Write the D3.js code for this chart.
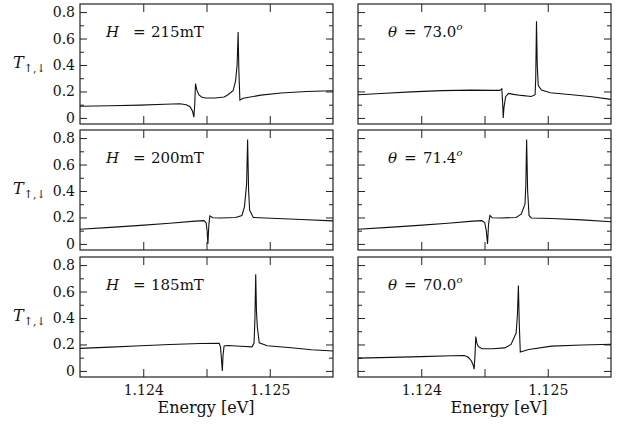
<!DOCTYPE html>
<html>
<head>
<meta charset="utf-8">
<script src="https://cdn.jsdelivr.net/npm/d3@7"></script>
<style>
  body { margin: 0; background: #fff; }
</style>
</head>
<body>
<svg id="chart" width="621" height="428" font-family="'DejaVu Serif', 'Liberation Serif', 'Times New Roman', serif"></svg>
<script>
// values: energy [eV] and T for each panel
var eH215 = [1.12350, 1.12374, 1.12398, 1.12417, 1.12429, 1.12434, 1.12437, 1.12439, 1.124400, 1.124407, 1.124413, 1.124424, 1.124439, 1.12446, 1.12449, 1.12457, 1.12464, 1.12467, 1.12471, 1.12473, 1.124742, 1.124750, 1.124756, 1.124764, 1.12479, 1.12493, 1.12509, 1.12529, 1.12550];
var tH215 = [0.088, 0.092, 0.097, 0.103, 0.107, 0.100, 0.085, 0.050, 0.005, 0.10, 0.26, 0.21, 0.175, 0.158, 0.150, 0.150, 0.158, 0.175, 0.205, 0.28, 0.40, 0.65, 0.35, 0.135, 0.148, 0.172, 0.188, 0.200, 0.205];

var eA730 = [1.12350, 1.12368, 1.12392, 1.12416, 1.12440, 1.12456, 1.12462, 1.124637, 1.124644, 1.124648, 1.124654, 1.124667, 1.12469, 1.12473, 1.12479, 1.12487, 1.12490, 1.124905, 1.124911, 1.124917, 1.124925, 1.12495, 1.12502, 1.12519, 1.12535, 1.12550];
var tA730 = [0.175, 0.185, 0.197, 0.206, 0.210, 0.208, 0.208, 0.220, 0.10, 0.0, 0.08, 0.16, 0.185, 0.178, 0.170, 0.162, 0.175, 0.30, 0.73, 0.40, 0.245, 0.210, 0.190, 0.175, 0.160, 0.140];

var eH200 = [1.12350, 1.12374, 1.12398, 1.12421, 1.12441, 1.12448, 1.124497, 1.124505, 1.124511, 1.124519, 1.124527, 1.12455, 1.12461, 1.12473, 1.12478, 1.12480, 1.124817, 1.124825, 1.124833, 1.124841, 1.12487, 1.12501, 1.12525, 1.12550];
var tH200 = [0.111, 0.125, 0.140, 0.156, 0.172, 0.176, 0.16, 0.10, 0.0, 0.15, 0.212, 0.198, 0.196, 0.200, 0.215, 0.28, 0.45, 0.79, 0.40, 0.255, 0.200, 0.194, 0.185, 0.174];

var eA714 = [1.12350, 1.12374, 1.12398, 1.12421, 1.12441, 1.12448, 1.124502, 1.124514, 1.124524, 1.124532, 1.124543, 1.12456, 1.12463, 1.12475, 1.12479, 1.12482, 1.124827, 1.124833, 1.124841, 1.124852, 1.12487, 1.12503, 1.12527, 1.12550];
var tA714 = [0.111, 0.125, 0.140, 0.156, 0.172, 0.176, 0.16, 0.10, 0.0, 0.15, 0.215, 0.198, 0.196, 0.200, 0.225, 0.30, 0.45, 0.79, 0.40, 0.215, 0.196, 0.192, 0.182, 0.168];

var eH185 = [1.12350, 1.12374, 1.12398, 1.12421, 1.12445, 1.12460, 1.124611, 1.124619, 1.124625, 1.124631, 1.124639, 1.12467, 1.12477, 1.12486, 1.124876, 1.124883, 1.124889, 1.124895, 1.124902, 1.124917, 1.12498, 1.12517, 1.12533, 1.12550];
var tH185 = [0.170, 0.180, 0.190, 0.200, 0.207, 0.208, 0.18, 0.08, 0.0, 0.12, 0.188, 0.192, 0.186, 0.182, 0.21, 0.40, 0.73, 0.45, 0.33, 0.213, 0.190, 0.175, 0.160, 0.150];

var eA700 = [1.12350, 1.12376, 1.12400, 1.12424, 1.12434, 1.12437, 1.124397, 1.12441, 1.124418, 1.124425, 1.124431, 1.12444, 1.12445, 1.12448, 1.12456, 1.12466, 1.12471, 1.12475, 1.12476, 1.124768, 1.124775, 1.124783, 1.12481, 1.12485, 1.12503, 1.12527, 1.12550];
var tA700 = [0.097, 0.102, 0.108, 0.115, 0.117, 0.105, 0.075, 0.045, 0.013, 0.12, 0.26, 0.21, 0.185, 0.168, 0.168, 0.174, 0.200, 0.286, 0.42, 0.645, 0.35, 0.142, 0.150, 0.162, 0.187, 0.196, 0.202];

var fieldLabels = ["215", "200", "185"];
var angleLabels = ["73.0", "71.4", "70.0"];
var xTicks = [1.124, 1.1245, 1.125];
var xTickLabels = [1.124, 1.125];
var yMajor = [0, 0.2, 0.4, 0.6, 0.8];
var yMinor = [0.1, 0.3, 0.5, 0.7];

// layout
var colX = [80, 358], rowY = [4, 130, 257];
var pw = 253, ph = 120;
var FONT = "'DejaVu Serif', 'Liberation Serif', 'Times New Roman', serif";

var svg = d3.select("#chart");
svg.append("rect").attr("width", 621).attr("height", 428).attr("fill", "#fff");

var x = d3.scaleLinear().domain([1.1235, 1.1255]).range([0, pw]);
var y = d3.scaleLinear().domain([-0.046, 0.861]).range([ph, 0]);
var line = d3.line().x(function(d) { return x(d[0]); }).y(function(d) { return y(d[1]); });

var panels = [
  {row: 0, col: 0, e: eH215, t: tH215, lab: fieldLabels[0]},
  {row: 0, col: 1, e: eA730, t: tA730, lab: angleLabels[0]},
  {row: 1, col: 0, e: eH200, t: tH200, lab: fieldLabels[1]},
  {row: 1, col: 1, e: eA714, t: tA714, lab: angleLabels[1]},
  {row: 2, col: 0, e: eH185, t: tH185, lab: fieldLabels[2]},
  {row: 2, col: 1, e: eA700, t: tA700, lab: angleLabels[2]}
];

function styleAxis(g) {
  g.attr("font-family", FONT).attr("font-size", 14);
  g.select(".domain").remove();
  g.selectAll("line").attr("stroke", "#222").attr("stroke-width", 1);
  g.selectAll("text").attr("fill", "#111");
}

panels.forEach(function(p) {
  var g = svg.append("g").attr("transform", "translate(" + colX[p.col] + "," + rowY[p.row] + ")");
  var showY = p.col === 0, showX = p.row === 2;

  // y ticks, inward on both sides
  g.append("g").call(d3.axisLeft(y).tickValues(yMajor).tickSize(-7).tickPadding(5)
      .tickFormat(showY ? d3.format("") : function() { return ""; })).call(styleAxis);
  g.append("g").call(d3.axisLeft(y).tickValues(yMinor).tickSize(-4).tickFormat("")).call(styleAxis);
  g.append("g").attr("transform", "translate(" + pw + ",0)")
    .call(d3.axisRight(y).tickValues(yMajor).tickSize(-7).tickFormat("")).call(styleAxis);
  g.append("g").attr("transform", "translate(" + pw + ",0)")
    .call(d3.axisRight(y).tickValues(yMinor).tickSize(-4).tickFormat("")).call(styleAxis);

  // x ticks, inward top and bottom
  g.append("g").call(d3.axisTop(x).tickValues(xTicks).tickSize(-8).tickFormat("")).call(styleAxis);
  g.append("g").attr("transform", "translate(0," + ph + ")")
    .call(d3.axisBottom(x).tickValues(xTicks).tickSize(-8).tickPadding(8)
      .tickFormat(function(d) { return showX && xTickLabels.indexOf(d) >= 0 ? d3.format(".3f")(d) : ""; }))
    .call(styleAxis);

  g.append("rect").attr("width", pw).attr("height", ph)
    .attr("fill", "none").attr("stroke", "#222").attr("stroke-width", 1.2);

  g.append("path").datum(d3.zip(p.e, p.t)).attr("d", line)
    .attr("fill", "none").attr("stroke", "#111").attr("stroke-width", 1.1);

  // annotation
  var ann = g.append("text").attr("y", 33).attr("font-size", 15).attr("font-family", FONT).attr("fill", "#111");
  if (p.col === 0) {
    ann.append("tspan").attr("x", 26).attr("font-style", "italic").text("H");
    ann.append("tspan").attr("x", 53).text("=");
    ann.append("tspan").attr("x", 71).text(p.lab + "mT");
  } else {
    ann.append("tspan").attr("x", 30).attr("font-style", "italic").text("\u03b8");
    ann.append("tspan").attr("x", 46).text("=");
    ann.append("tspan").attr("x", 65).text(p.lab);
    ann.append("tspan").attr("font-style", "italic").attr("font-size", 10).attr("dy", -7).text("o");
  }

  if (showY) {
    var yl = svg.append("text").attr("x", 13).attr("y", rowY[p.row] + ph / 2 + 4)
      .attr("font-size", 16).attr("font-family", FONT).attr("fill", "#111");
    yl.append("tspan").attr("font-style", "italic").text("T");
    yl.append("tspan").attr("font-size", 11).attr("dy", 4).text("\u2191,\u2193");
  }
  if (showX) {
    svg.append("text").attr("x", p.col === 0 ? 206 : 499).attr("y", 413)
      .attr("text-anchor", "middle").attr("font-size", 16).attr("font-family", FONT)
      .attr("fill", "#111").text("Energy [eV]");
  }
});
</script>
</body>
</html>
